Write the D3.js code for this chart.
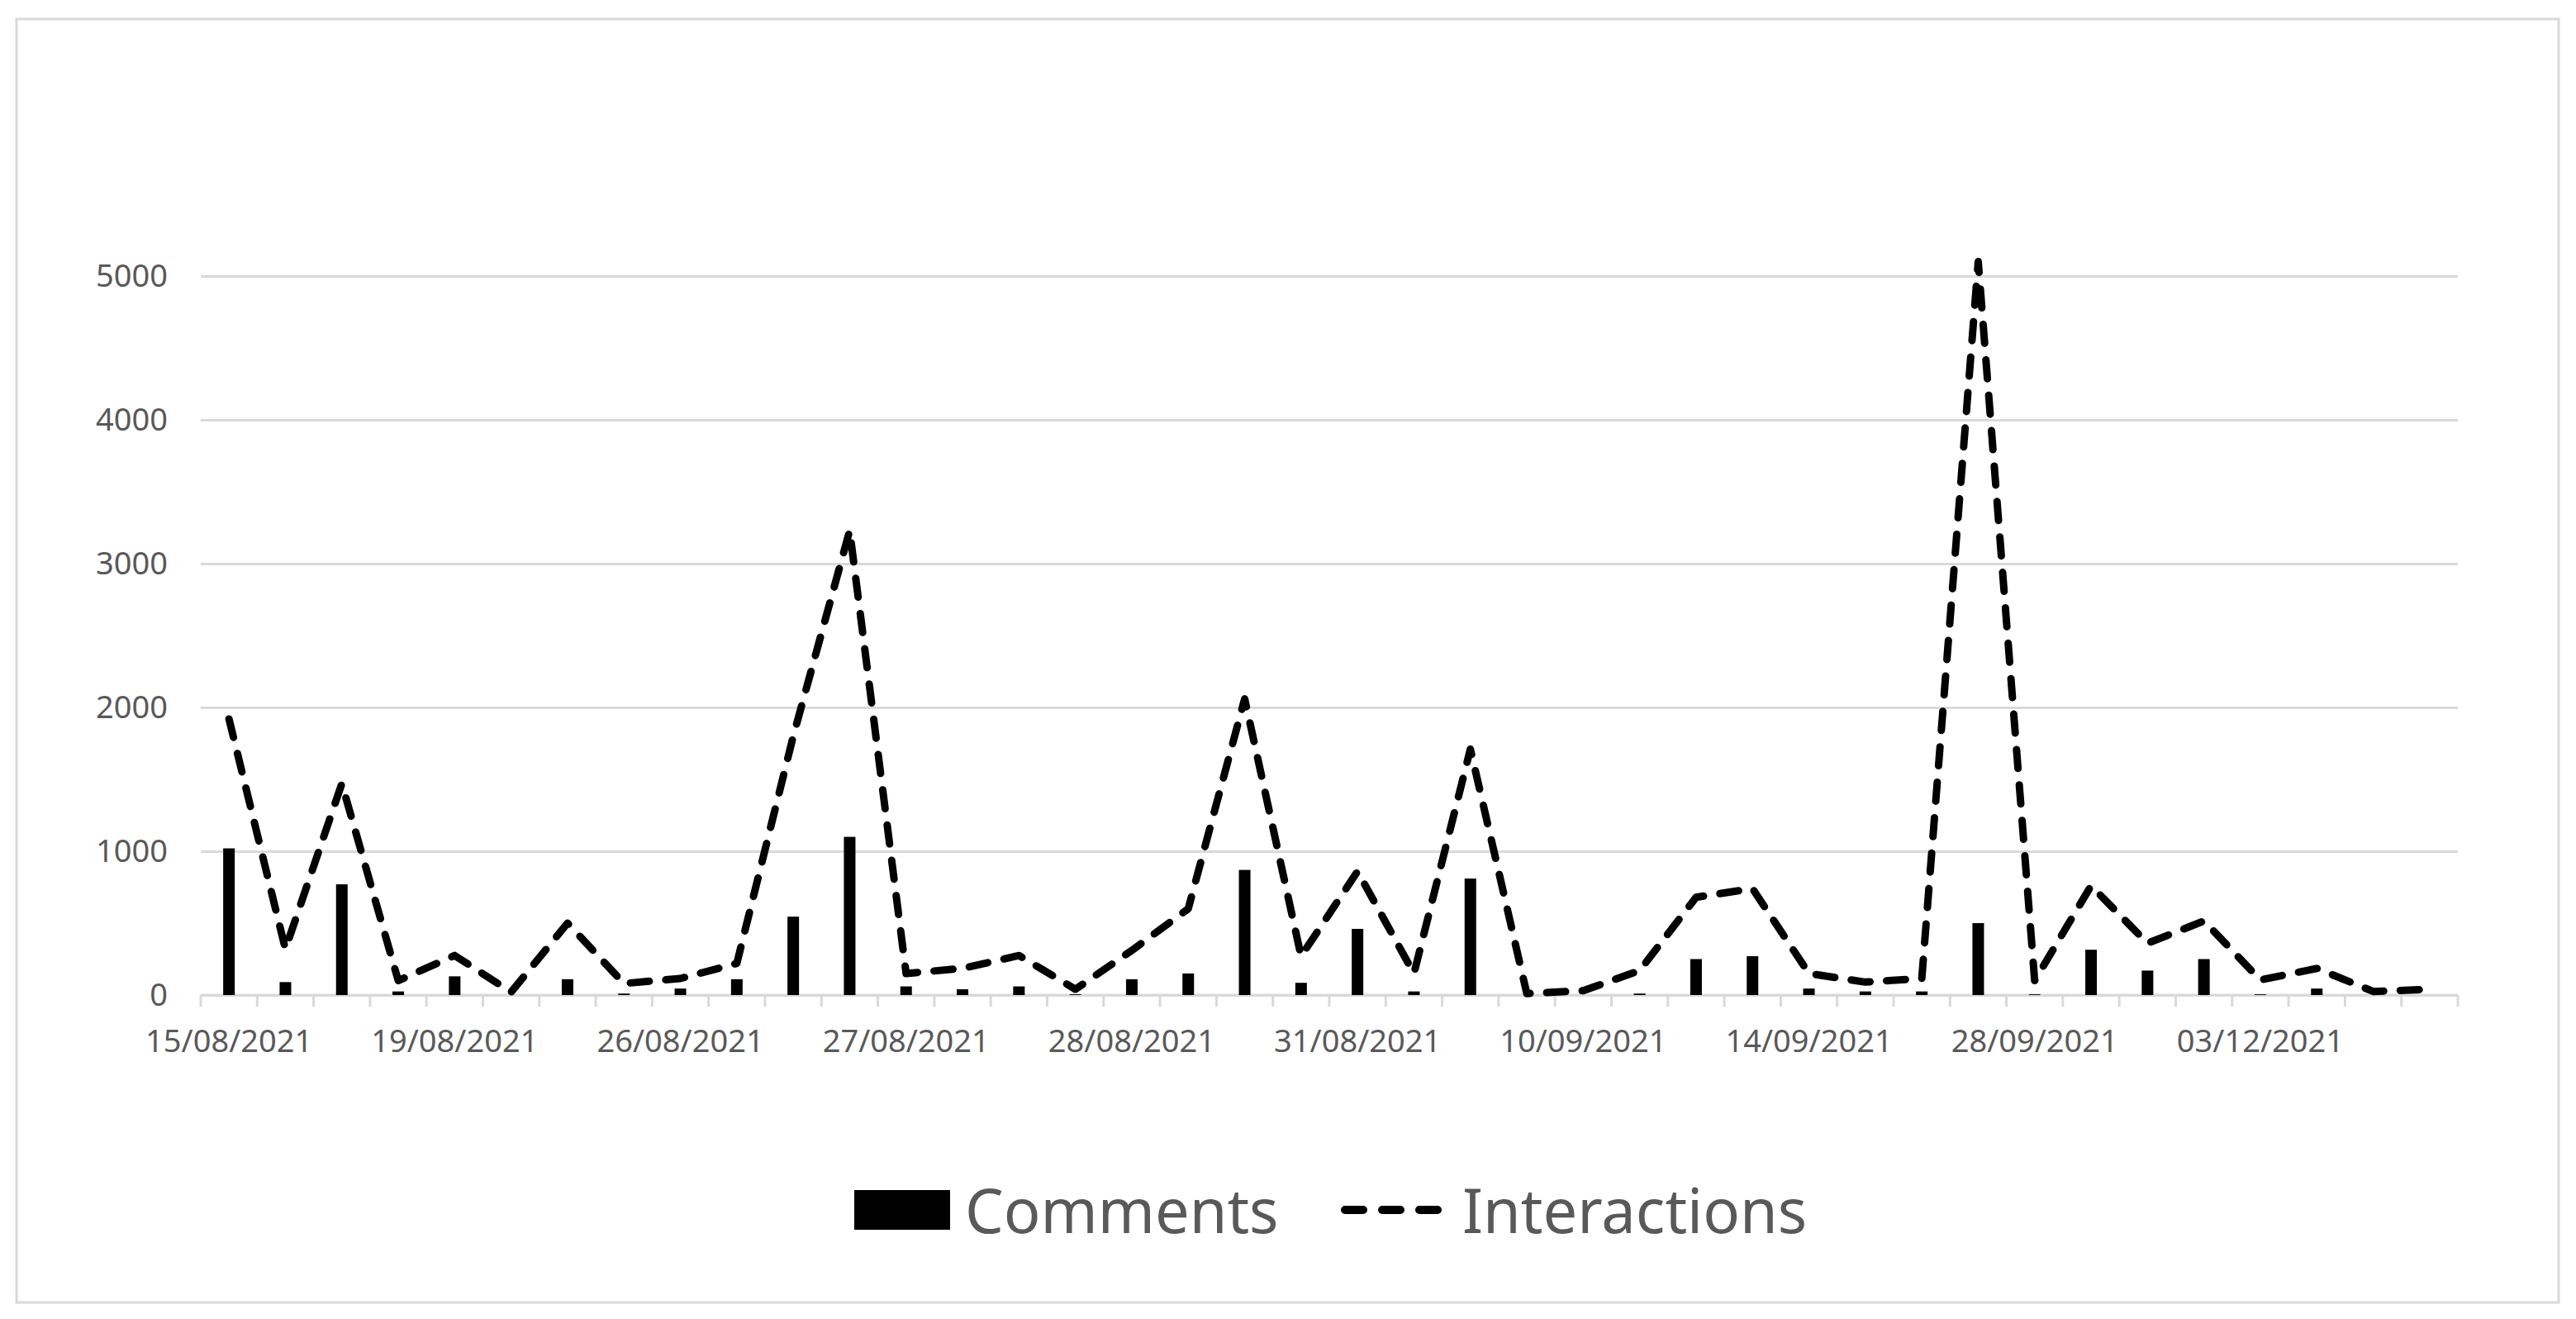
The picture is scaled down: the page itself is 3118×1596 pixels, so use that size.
<!DOCTYPE html>
<html>
<head>
<meta charset="utf-8">
<script src="https://cdn.jsdelivr.net/npm/d3@7"></script>
<style>
  body { margin: 0; background: #fff; }
  svg { display: block; }
</style>
</head>
<body>
<svg></svg>
<script>
// tick labels shown on the x axis (every 4th category)
var dateLabels = ["15/08/2021", "19/08/2021", "26/08/2021", "27/08/2021", "28/08/2021",
                  "31/08/2021", "10/09/2021", "14/09/2021", "28/09/2021", "03/12/2021"];

// bars: comments per post
var comments = [1020, 90, 770, 25, 130, 0, 110, 10, 45, 110,
                545, 1100, 60, 40, 60, 5, 110, 150, 870, 85,
                460, 25, 810, 0, 0, 10, 250, 270, 45, 25,
                25, 500, 5, 315, 170, 250, 5, 45, 0, 0];

// dashed line: interactions per post
var interactions = [1920, 320, 1470, 100, 275, 20, 500, 80, 115, 220,
                    1800, 3230, 150, 185, 275, 40, 310, 600, 2060, 270,
                    860, 150, 1710, 10, 30, 170, 680, 740, 150, 90,
                    115, 5100, 100, 760, 360, 515, 105, 185, 25, 40];

var yTicks = [0, 1000, 2000, 3000, 4000, 5000];

var W = 3118, H = 1596;
var margin = { top: 334, right: 143, bottom: 392, left: 243 },
    width = W - margin.left - margin.right,
    height = H - margin.top - margin.bottom;

var svg = d3.select("svg")
    .attr("width", W)
    .attr("height", H)
    .attr("font-family", "'Noto Sans', sans-serif");

// chart border
svg.append("rect")
    .attr("x", 20).attr("y", 23)
    .attr("width", 3077).attr("height", 1553)
    .attr("fill", "#fff")
    .attr("stroke", "#d9d9d9")
    .attr("stroke-width", 3);

var g = svg.append("g")
    .attr("transform", "translate(" + margin.left + "," + margin.top + ")");

var idx = d3.range(comments.length);

var x = d3.scaleBand()
    .domain(idx)
    .range([0, width])
    .padding(0);

var y = d3.scaleLinear()
    .domain([0, 5000])
    .range([height, 0]);

// gridlines + y labels
g.append("g")
    .call(d3.axisLeft(y).tickValues(yTicks).tickFormat(d3.format("d"))
            .tickSize(-width).tickPadding(40))
    .call(function(a) {
        a.select(".domain").remove();
        a.selectAll(".tick line").attr("stroke", "#d9d9d9").attr("stroke-width", 3);
        a.selectAll(".tick text")
            .attr("font-size", 38)
            .attr("fill", "#595959")
            .attr("font-family", "'Noto Sans', sans-serif");
    });

// x axis line and ticks at category boundaries
var bounds = idx.map(function(i) { return x(i); }).concat([width]);
g.append("line")
    .attr("x1", 0).attr("x2", width)
    .attr("y1", height).attr("y2", height)
    .attr("stroke", "#d9d9d9").attr("stroke-width", 3);
g.selectAll(".xtick")
    .data(bounds)
    .enter().append("line")
    .attr("class", "xtick")
    .attr("x1", function(d) { return d; })
    .attr("x2", function(d) { return d; })
    .attr("y1", height)
    .attr("y2", height + 14)
    .attr("stroke", "#d9d9d9").attr("stroke-width", 3);

// x labels, every 4th category
g.selectAll(".xlabel")
    .data(dateLabels)
    .enter().append("text")
    .attr("class", "xlabel")
    .attr("x", function(d, i) { return x(i * 4) + x.bandwidth() / 2; })
    .attr("y", height + 69)
    .attr("text-anchor", "middle")
    .attr("font-size", 38)
    .attr("fill", "#595959")
    .text(function(d) { return d; });

// bars
var barW = 14;
g.selectAll(".bar")
    .data(comments)
    .enter().append("rect")
    .attr("class", "bar")
    .attr("x", function(d, i) { return x(i) + x.bandwidth() / 2 - barW / 2; })
    .attr("y", function(d) { return y(d); })
    .attr("width", barW)
    .attr("height", function(d) { return height - y(d); })
    .attr("fill", "#000");

// dashed line
var line = d3.line()
    .x(function(d, i) { return x(i) + x.bandwidth() / 2; })
    .y(function(d) { return y(d); });

g.append("path")
    .datum(interactions)
    .attr("d", line)
    .attr("fill", "none")
    .attr("stroke", "#000")
    .attr("stroke-width", 9)
    .attr("stroke-linecap", "round")
    .attr("stroke-linejoin", "round")
    .attr("stroke-dasharray", "23,20");

// legend
var leg = svg.append("g");
leg.append("rect")
    .attr("x", 1034).attr("y", 1440)
    .attr("width", 116).attr("height", 48)
    .attr("fill", "#000");
leg.append("text")
    .attr("x", 1168).attr("y", 1492)
    .attr("font-size", 74)
    .attr("fill", "#595959")
    .text("Comments");
leg.append("line")
    .attr("x1", 1628).attr("x2", 1740)
    .attr("y1", 1464).attr("y2", 1464)
    .attr("stroke", "#000")
    .attr("stroke-width", 10)
    .attr("stroke-linecap", "round")
    .attr("stroke-dasharray", "22,23");
leg.append("text")
    .attr("x", 1770).attr("y", 1492)
    .attr("font-size", 74)
    .attr("fill", "#595959")
    .text("Interactions");
</script>
</body>
</html>
